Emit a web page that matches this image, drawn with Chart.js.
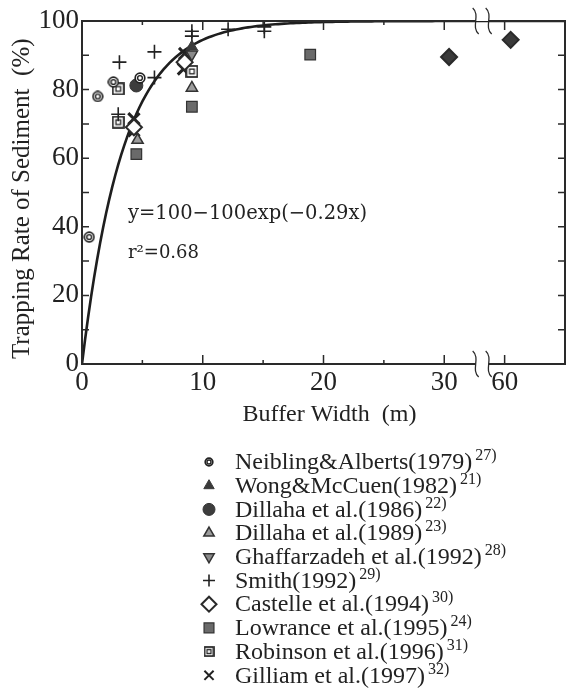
<!DOCTYPE html>
<html>
<head>
<meta charset="utf-8">
<script src="https://cdn.jsdelivr.net/npm/chart.js@4.4.0/dist/chart.umd.min.js"></script>
<style>
  html, body { margin: 0; padding: 0; background: #fff; }
  #wrap { width: 566px; height: 691px; position: relative; }
</style>
</head>
<body>
<div id="wrap"><canvas id="chart"></canvas></div>
<script>
// data (x = buffer width in m, y = trapping rate in %)
const neiblingX = [0.6, 1.3, 2.6, 4.8];
const neiblingY = [37, 78, 82.2, 83.4];
const wongX = [9.1];
const wongY = [92.5];
const dillaha86X = [4.5];
const dillaha86Y = [81.2];
const dillaha89X = [4.6, 9.1];
const dillaha89Y = [65.3, 80.5];
const ghaffX = [9.1];
const ghaffY = [90.3];
const smithX = [3.0, 3.1, 6.0, 6.0, 9.1, 9.1, 12.1, 15.1, 15.1];
const smithY = [72.8, 88, 83.5, 91, 95.6, 97, 97.6, 97, 98.3];
const castelleX = [4.3, 8.5, 30.4, 60.5];
const castelleY = [69, 88, 89.5, 94.5];
const lowranceX = [4.5, 9.1, 18.9];
const lowranceY = [61.2, 75, 90.2];
const robinsonX = [3.0, 3.0, 9.1];
const robinsonY = [70.5, 80.2, 85.3];
const gilliamX = [4.3, 4.3, 8.4, 8.5];
const gilliamY = [71.5, 68, 86, 90.5];

const studyNames = [
  'Neibling&Alberts(1979)', 'Wong&McCuen(1982)', 'Dillaha et al.(1986)',
  'Dillaha et al.(1989)', 'Ghaffarzadeh et al.(1992)', 'Smith(1992)',
  'Castelle et al.(1994)', 'Lowrance et al.(1995)', 'Robinson et al.(1996)',
  'Gilliam et al.(1997)'
];
const studyRefs = ['27)', '21)', '22)', '23)', '28)', '29)', '30)', '24)', '31)', '32)'];

// fitted curve y = 100 - 100 exp(-k x)
const fitK = 0.29;
const yTicks = [0, 20, 40, 60, 80, 100];
const xTickLabels = { 0: '0', 10: '10', 20: '20', 30: '30', 35: '60' };
const equationText = 'y=100\u2212100exp(\u22120.29x)';
const r2Text = 'r\u00b2=0.68';

// axis break: real 60 m is drawn at axis position 35
function toAxis(x) { return x >= 60 ? 35 + (x - 60) : x; }
const breakAt = 33.1;

function marker(size, draw) {
  const c = document.createElement('canvas');
  c.width = size; c.height = size;
  draw(c.getContext('2d'), size);
  return c;
}
function ringMarker(size) {
  return marker(size, (g, s) => {
    g.fillStyle = '#fff';
    g.strokeStyle = '#222'; g.lineWidth = 1.7;
    g.beginPath(); g.arc(s / 2, s / 2, s / 2 - 1.2, 0, Math.PI * 2); g.fill(); g.stroke();
    g.lineWidth = 1.4;
    g.beginPath(); g.arc(s / 2, s / 2, s / 5, 0, Math.PI * 2); g.stroke();
  });
}
function boxMarker(size) {
  return marker(size, (g, s) => {
    g.fillStyle = '#fff'; g.fillRect(1, 1, s - 2, s - 2);
    g.strokeStyle = '#222'; g.lineWidth = 1.7;
    g.strokeRect(1, 1, s - 2, s - 2);
    const q = s * 0.32;
    g.lineWidth = 1.3;
    g.strokeRect(q, q, s - 2 * q, s - 2 * q);
  });
}

const pts = (xs, ys) => xs.map((x, i) => ({ x: toAxis(x), y: ys[i] }));

const curveX = [];
for (let x = 0; x <= 40; x += 0.25) curveX.push(x);
const curveData = curveX.map(x => ({ x: x, y: 100 - 100 * Math.exp(-fitK * x) }));

const studies = [
  { data: pts(neiblingX, neiblingY), pointStyle: ringMarker(12), legendStyle: ringMarker(10), radius: 6, legendRadius: 5, bg: '#fff', border: '#333', bw: 0 },
  { data: pts(wongX, wongY), pointStyle: 'triangle', radius: 6.5, legendRadius: 6, bg: '#3a3a3a', border: '#3a3a3a', bw: 1 },
  { data: pts(dillaha86X, dillaha86Y), pointStyle: 'circle', radius: 6.5, legendRadius: 6, bg: '#3d3d3d', border: '#333', bw: 1 },
  { data: pts(dillaha89X, dillaha89Y), pointStyle: 'triangle', radius: 6.5, legendRadius: 6, bg: '#9c9c9c', border: '#333', bw: 1.5 },
  { data: pts(ghaffX, ghaffY), pointStyle: 'triangle', rotation: 180, radius: 6.5, legendRadius: 6, bg: '#8a8a8a', border: '#333', bw: 1.5 },
  { data: pts(smithX, smithY), pointStyle: 'cross', radius: 7, legendRadius: 6, bg: '#222', border: '#222', bw: 1.6 },
  { data: pts(castelleX, castelleY), pointStyle: 'rectRot', radius: 8, legendRadius: 7.5, bg: ['#fff', '#fff', '#3a3a3a', '#3a3a3a'], border: '#2a2a2a', bw: 2 },
  { data: pts(lowranceX, lowranceY), pointStyle: 'rect', radius: 7.5, legendRadius: 7, bg: '#6a6a6a', border: '#333', bw: 1.2 },
  { data: pts(robinsonX, robinsonY), pointStyle: boxMarker(13), legendStyle: boxMarker(11), radius: 6, legendRadius: 5, bg: '#fff', border: '#333', bw: 0 },
  { data: pts(gilliamX, gilliamY), pointStyle: 'crossRot', radius: 8, legendRadius: 6.5, bg: '#222', border: '#222', bw: 3 }
];

const datasets = studies.map((s, i) => ({
  type: 'scatter',
  label: studyNames[i],
  data: s.data,
  pointStyle: s.pointStyle,
  pointRadius: s.radius,
  pointRotation: s.rotation || 0,
  pointBackgroundColor: s.bg,
  pointBorderColor: s.border,
  pointBorderWidth: s.bw,
  showLine: false
}));
datasets.push({
  type: 'line',
  label: 'fit',
  data: curveData,
  borderColor: '#1e1e1e',
  borderWidth: 2.6,
  pointRadius: 0,
  tension: 0,
  fill: false
});

const ink = '#222';

const framePlugin = {
  id: 'frame',
  afterDraw(chart) {
    const { ctx, chartArea: a, scales: { x, y } } = chart;
    const bx = x.getPixelForValue(breakAt);
    const gapL = bx - 6, gapR = bx + 7;
    ctx.save();
    ctx.strokeStyle = '#2a2a2a';
    ctx.lineWidth = 2;
    ctx.lineCap = 'butt';
    ctx.beginPath();
    ctx.moveTo(a.left, a.top); ctx.lineTo(a.left, a.bottom);
    ctx.moveTo(a.right, a.top); ctx.lineTo(a.right, a.bottom);
    [a.top, a.bottom].forEach(yy => {
      ctx.moveTo(a.left - 1, yy); ctx.lineTo(gapL, yy);
      ctx.moveTo(gapR, yy); ctx.lineTo(a.right + 1, yy);
    });
    ctx.stroke();

    // inward ticks
    ctx.lineWidth = 1.5;
    ctx.beginPath();
    for (let v = 5; v < 40; v += 5) {
      const px = x.getPixelForValue(v);
      const len = (v % 10 === 0 || v === 35) ? 9 : 4;
      ctx.moveTo(px, a.bottom); ctx.lineTo(px, a.bottom - len);
      ctx.moveTo(px, a.top); ctx.lineTo(px, a.top + len);
    }
    for (let v = 10; v < 100; v += 10) {
      const py = y.getPixelForValue(v);
      ctx.moveTo(a.left, py); ctx.lineTo(a.left + 7, py);
      ctx.moveTo(a.right, py); ctx.lineTo(a.right - 7, py);
    }
    ctx.stroke();

    // break squiggles
    ctx.lineWidth = 1.3;
    [a.top, a.bottom].forEach(yy => {
      [gapL, gapR].forEach(sx => {
        ctx.beginPath();
        ctx.moveTo(sx - 3, yy - 13);
        ctx.bezierCurveTo(sx + 5, yy - 6, sx - 5, yy + 6, sx + 3, yy + 13);
        ctx.stroke();
      });
    });

    // equation text
    ctx.fillStyle = ink;
    ctx.textBaseline = 'middle';
    ctx.textAlign = 'left';
    ctx.font = '19.5px "DejaVu Serif"';
    ctx.fillText(equationText, 128, 214);
    ctx.font = '18px "DejaVu Serif"';
    ctx.fillText(r2Text, 128, 253);

    // legend
    const legendTop = 462, legendStep = 23.7, markX = 209, textX = 235;
    studies.forEach((s, i) => {
      const yy = legendTop + i * legendStep;
      ctx.fillStyle = Array.isArray(s.bg) ? s.bg[0] : s.bg;
      ctx.strokeStyle = s.border;
      ctx.lineWidth = Math.min(s.bw, 2);
      Chart.helpers.drawPoint(ctx, {
        pointStyle: s.legendStyle || s.pointStyle,
        radius: s.legendRadius,
        rotation: s.rotation || 0,
        borderWidth: Math.min(s.bw, 2)
      }, markX, yy);
      ctx.fillStyle = ink;
      ctx.font = '24px "Liberation Serif"';
      ctx.textBaseline = 'middle';
      ctx.fillText(studyNames[i], textX, yy + 1);
      const w = ctx.measureText(studyNames[i]).width;
      ctx.font = '16px "Liberation Serif"';
      ctx.fillText(studyRefs[i], textX + w + 3, yy - 6);
    });
    ctx.restore();
  }
};

new Chart(document.getElementById('chart'), {
  data: { datasets: datasets },
  options: {
    responsive: true,
    maintainAspectRatio: false,
    animation: false,
    layout: { autoPadding: false, padding: { left: 0, right: 1, top: 21, bottom: 261 } },
    plugins: { legend: { display: false }, tooltip: { enabled: false } },
    scales: {
      x: {
        type: 'linear',
        min: 0,
        max: 40,
        afterFit: s => { s.height = 66; s.paddingRight = 0; },
        grid: { display: false, drawTicks: false },
        border: { display: false },
        ticks: {
          stepSize: 5,
          autoSkip: false,
          maxRotation: 0,
          padding: 3,
          color: ink,
          font: { family: '"Liberation Serif"', size: 27 },
          callback: v => xTickLabels[v] !== undefined ? xTickLabels[v] : ''
        },
        title: {
          display: true,
          text: '  Buffer Width  (m)',
          color: ink,
          font: { family: '"Liberation Serif"', size: 24 },
          padding: { top: 0, bottom: 1 }
        }
      },
      y: {
        type: 'linear',
        min: 0,
        max: 100,
        afterFit: s => { s.width = 82; },
        grid: { display: false, drawTicks: false },
        border: { display: false },
        ticks: {
          stepSize: 10,
          autoSkip: false,
          padding: 3,
          color: ink,
          font: { family: '"Liberation Serif"', size: 27 },
          callback: v => yTicks.includes(v) ? String(v) : ''
        },
        title: {
          display: true,
          text: 'Trapping Rate of Sediment  (%)  ',
          color: ink,
          font: { family: '"Liberation Serif"', size: 25 },
          padding: { top: 7, bottom: 0 }
        }
      }
    }
  },
  plugins: [framePlugin]
});
</script>
</body>
</html>
